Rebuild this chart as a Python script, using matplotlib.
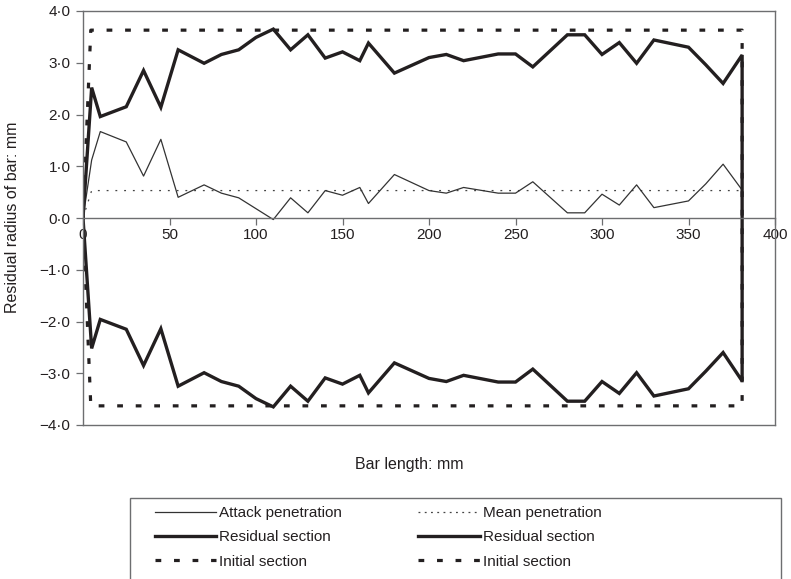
import numpy as np
import matplotlib.pyplot as plt
from matplotlib.lines import Line2D
from matplotlib.patches import Rectangle

# bar length positions (mm)
bar_x = [0, 5, 10, 25, 35, 45, 55, 70, 80, 90, 100, 110, 120, 130, 140, 150,
         160, 165, 180, 200, 210, 220, 240, 250, 260, 280, 290, 300, 310, 320,
         330, 350, 360, 370, 381]
# residual radius (upper half, lower half is the mirror)
residual = [0, 2.52, 1.96, 2.15, 2.85, 2.14, 3.25, 2.99, 3.16, 3.25, 3.49, 3.65,
            3.25, 3.54, 3.09, 3.21, 3.04, 3.38, 2.80, 3.10, 3.16, 3.04, 3.17,
            3.17, 2.92, 3.54, 3.54, 3.16, 3.39, 2.99, 3.44, 3.30, 2.96, 2.60, 3.15]
# attack penetration
attack = [0, 1.12, 1.67, 1.47, 0.81, 1.52, 0.40, 0.64, 0.48, 0.39, 0.18, -0.03,
          0.39, 0.10, 0.53, 0.44, 0.59, 0.28, 0.84, 0.53, 0.48, 0.59, 0.48,
          0.48, 0.70, 0.10, 0.10, 0.46, 0.25, 0.64, 0.20, 0.33, 0.66, 1.04, 0.54]
mean_x = [0, 5, 381]
mean_pen = [0, 0.53, 0.53]
initial_x = [0, 4.5, 381]
initial_r = [0, 3.63, 3.63]

yticks = [-4, -3, -2, -1, 0, 1, 2, 3, 4]
ytick_labels = ['\u22124\u00b70', '\u22123\u00b70', '\u22122\u00b70', '\u22121\u00b70',
                '0\u00b70', '1\u00b70', '2\u00b70', '3\u00b70', '4\u00b70']
xticks = [0, 50, 100, 150, 200, 250, 300, 350, 400]

plt.rcParams['font.family'] = 'Liberation Sans'
plt.rcParams['font.size'] = 11

ink = '#231f20'
frame = '#6d6e70'

fig = plt.figure(figsize=(7.91, 5.79), dpi=100)
ax = fig.add_axes([83/791, 1-425/579, (775-83)/791, (425-11)/579])

# closed outlines (upper half then mirrored lower half)
rx = np.array(bar_x, dtype=float)
ry = np.array(residual)
ix = np.array(initial_x, dtype=float)
iy = np.array(initial_r)

init_style = dict(color=ink, lw=2.3, dashes=(1.8, 4.0), dash_capstyle='butt')
ax.plot(np.concatenate([ix, ix[::-1]]), np.concatenate([iy, -iy[::-1]]), **init_style)
ax.plot(mean_x, mean_pen, color='#444444', lw=0.9, dashes=(1.5, 5.5))
ax.plot(bar_x, attack, color='#333333', lw=0.9)
ax.plot(np.concatenate([rx, rx[::-1]]), np.concatenate([ry, -ry[::-1]]),
        color=ink, lw=2.4, solid_joinstyle='miter')

ax.set_xlim(0, 400)
ax.set_ylim(-4, 4)
ax.set_yticks(yticks)
ax.set_yticklabels(ytick_labels)
ax.set_xticks(xticks)
ax.spines['bottom'].set_position(('data', 0))
for s in ax.spines.values():
    s.set_color(frame)
    s.set_linewidth(1.0)
ax.axhline(-4, color=frame, lw=1.0, clip_on=False)
ax.tick_params(axis='both', colors=frame, labelcolor=ink, length=5, width=0.9,
               labelsize=11)
ax.tick_params(axis='x', pad=2)
ax.tick_params(axis='y', pad=4)

fig.text(13/791, 1-217/579, 'Residual radius of bar: mm', rotation=90,
         ha='center', va='center', fontsize=11.5, color=ink)
fig.text(409/791, 1-465/579, 'Bar length: mm', ha='center', va='center',
         fontsize=11.5, color=ink)

# legend
h_attack = Line2D([], [], color='#333333', lw=0.9)
h_mean = Line2D([], [], color='#444444', lw=0.9, dashes=(1.5, 3.5))
h_res = Line2D([], [], color=ink, lw=2.4)
h_init = Line2D([], [], **init_style)
handles = [h_attack, h_res, h_init, h_mean, h_res, h_init]
labels = ['Attack penetration', 'Residual section', 'Initial section',
          'Mean penetration', 'Residual section', 'Initial section']
fig.legend(handles, labels, ncol=2, loc='upper left',
           bbox_to_anchor=(155/791, 1-506/579), frameon=False,
           borderpad=0, borderaxespad=0, handlelength=4.0, handletextpad=0.2,
           columnspacing=5.0, labelspacing=0.68, fontsize=11, labelcolor=ink)
fig.add_artist(Rectangle((130/791, -0.1), (781-130)/791, 0.1+(1-498/579),
                         transform=fig.transFigure, fill=False,
                         edgecolor=frame, lw=1.0))

fig.savefig('out.png', dpi=100)
